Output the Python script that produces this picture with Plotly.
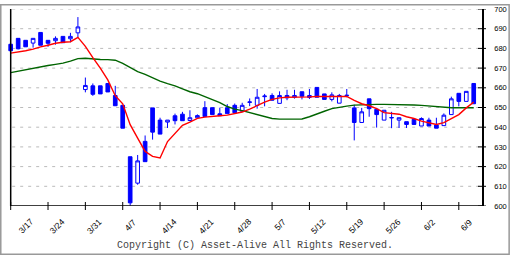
import plotly.graph_objects as go

# ---- data ----
bar_index = list(range(63))
opens = [682.1, 685.1, 684.1, 682.7, 688.1, 684.1, 683.9, 686.1, 684.9, 687.9,
         659.1, 661.0, 661.0, 662.2, 656.1, 651.1, 625.0, 611.6, 632.8, 649.8,
         643.6, 642.6, 645.8, 646.6, 643.4, 644.8, 649.9, 649.9, 646.8, 649.9,
         651.1, 648.1, 652.6, 651.1, 655.5, 656.1, 652.1, 656.1, 655.2, 658.0,
         655.1, 660.2, 656.9, 654.1, 652.2, 656.0, 649.8, 642.4, 654.4, 649.1,
         643.6, 644.7, 643.6, 642.8, 644.0, 640.6, 643.6, 641.1, 640.8, 646.4,
         657.2, 653.1, 662.2]
highs = [682.3, 685.2, 684.1, 685.1, 688.1, 684.1, 686.1, 686.1, 687.9, 695.9,
         665.2, 662.2, 661.0, 662.2, 661.0, 651.1, 625.0, 625.9, 635.8, 649.8,
         644.8, 643.6, 646.9, 647.8, 648.6, 646.5, 653.2, 649.9, 649.9, 651.7,
         652.0, 652.4, 654.6, 659.4, 656.9, 657.2, 658.2, 659.0, 659.0, 658.0,
         659.4, 660.2, 656.9, 657.7, 656.9, 659.4, 651.4, 649.8, 654.4, 649.8,
         648.6, 647.8, 644.8, 642.8, 644.0, 645.0, 644.8, 644.8, 647.0, 655.5,
         657.2, 658.2, 662.2]
lows = [678.8, 679.5, 680.8, 680.4, 681.6, 680.8, 681.9, 682.9, 683.1, 685.5,
        657.7, 655.9, 656.9, 657.9, 650.9, 639.5, 600.2, 610.8, 622.5, 633.7,
        636.5, 639.6, 641.4, 643.3, 643.0, 644.5, 645.4, 646.4, 645.8, 646.9,
        647.3, 647.8, 650.7, 649.4, 650.6, 653.5, 652.1, 653.7, 654.5, 654.1,
        654.3, 655.2, 654.1, 653.1, 652.2, 655.2, 633.3, 642.4, 645.3, 639.8,
        643.6, 639.5, 639.6, 639.6, 641.4, 640.6, 640.6, 639.5, 640.8, 646.4,
        650.6, 653.1, 651.9]
closes = [678.8, 679.8, 680.8, 685.1, 681.6, 682.6, 685.1, 682.9, 686.1, 690.9,
          661.2, 656.7, 656.9, 657.9, 650.9, 639.5, 601.6, 622.9, 622.5, 637.5,
          636.5, 643.6, 643.3, 643.3, 644.8, 645.9, 645.4, 646.4, 645.8, 646.9,
          647.3, 651.1, 652.8, 655.2, 655.8, 653.7, 656.1, 654.9, 656.1, 655.7,
          656.1, 655.2, 654.1, 656.4, 656.1, 656.2, 642.4, 647.8, 649.4, 646.4,
          648.6, 644.9, 644.8, 641.4, 641.4, 644.4, 640.6, 639.5, 646.1, 654.4,
          653.1, 658.2, 651.9]
ma_short = [677.6, 678.1, 678.8, 679.6, 680.8, 681.6, 682.6, 683.1, 683.4, 685.6,
            681.0, 675.3, 670.0, 664.0, 656.0, 651.9, 641.3, 634.5, 627.7, 625.2,
            624.4, 632.7, 637.0, 641.0, 642.6, 644.5, 645.1, 645.3, 645.8, 646.1,
            646.9, 647.7, 649.2, 651.1, 652.7, 654.1, 654.9, 655.2, 655.2, 655.3,
            655.4, 655.6, 655.6, 655.6, 655.6, 655.6, 653.6, 651.9, 650.9, 649.4,
            647.4, 646.9, 646.6, 645.3, 644.4, 643.1, 642.4, 641.4, 642.3, 644.4,
            646.4, 649.8, 652.7]
ma_long = [667.7, 668.5, 669.2, 669.8, 670.6, 671.3, 671.9, 672.5, 673.5, 674.8,
           675.0, 674.6, 674.4, 674.3, 674.0, 672.4, 670.2, 668.2, 666.8, 665.0,
           663.4, 662.1, 661.0, 659.5, 658.0, 657.0, 655.6, 654.0, 652.5, 650.5,
           649.2, 648.4, 647.4, 646.4, 645.3, 644.4, 644.1, 644.1, 644.1, 644.2,
           645.3, 646.9, 648.1, 649.4, 650.2, 650.7, 651.2, 651.4, 651.6, 651.6,
           651.6, 651.6, 651.6, 651.5, 651.3, 651.1, 650.8, 650.5, 650.1, 649.9,
           649.9, 649.9, 649.9]
x_tick_index = [0, 5, 10, 15, 20, 25, 30, 35, 40, 45, 50, 55, 60]
x_tick_labels = ["3/17", "3/24", "3/31", "4/7", "4/14", "4/21", "4/28",
                 "5/7", "5/12", "5/19", "5/26", "6/2", "6/9"]
y_ticks = [600, 610, 620, 630, 640, 650, 660, 670, 680, 690, 700]

# ---- layout geometry (pixels) ----
W, H = 512, 256
L, R, T, B = 8, 484, 5, 206
XMIN = -0.36
XMAX = XMIN + (R - L) / 7.5
BLUE = "#0000ff"

fig = go.Figure()
fig.add_trace(go.Candlestick(
    x=bar_index, open=opens, high=highs, low=lows, close=closes,
    increasing=dict(line=dict(color=BLUE, width=1), fillcolor="#ffffff"),
    decreasing=dict(line=dict(color=BLUE, width=1), fillcolor=BLUE),
    whiskerwidth=0, hoverinfo="skip", showlegend=False))
fig.add_trace(go.Scatter(x=bar_index, y=ma_long, mode="lines",
                         line=dict(color="#006400", width=1.4),
                         hoverinfo="skip", showlegend=False))
fig.add_trace(go.Scatter(x=bar_index, y=ma_short, mode="lines",
                         line=dict(color="#ff0000", width=1.4),
                         hoverinfo="skip", showlegend=False))

shapes = []
# dashed horizontal grid
for v in y_ticks[1:]:
    shapes.append(dict(type="line", xref="x", yref="y", x0=0.2, x1=XMAX, y0=v, y1=v,
                       line=dict(color="#bbbbbb", width=1, dash="3px,5px"), layer="below"))
# left and bottom axis lines
shapes.append(dict(type="line", xref="x", yref="y", x0=0, x1=0, y0=600, y1=700,
                   line=dict(color="black", width=1.5)))
shapes.append(dict(type="line", xref="x", yref="y", x0=0, x1=XMAX, y0=600, y1=600,
                   line=dict(color="black", width=1.5)))
# x ticks crossing the axis
for i in x_tick_index:
    shapes.append(dict(type="line", xref="x", yref="paper", x0=i, x1=i,
                       ysizemode="pixel", yanchor=0, y0=-4, y1=4,
                       line=dict(color="black", width=1)))
# y ticks crossing the right axis
for v in y_ticks:
    shapes.append(dict(type="line", xref="paper", yref="y", y0=v, y1=v,
                       xsizemode="pixel", xanchor=1, x0=-4, x1=4,
                       line=dict(color="black", width=1)))
# outer gray frame
pw, ph = R - L, B - T
def px(xp):
    return (xp - L) / pw
def py(yp):
    return (B - yp) / ph
shapes.append(dict(type="rect", xref="paper", yref="paper",
                   x0=px(0.75), x1=px(W - 0.75), y0=py(H - 0.75), y1=py(0.75),
                   line=dict(color="#999999", width=1.5), fillcolor="rgba(0,0,0,0)"))

annotations = []
for i, lab in zip(x_tick_index, x_tick_labels):
    annotations.append(dict(x=i, y=0, xref="x", yref="paper", text=lab, showarrow=False,
                            textangle=-45, xanchor="left", yanchor="top",
                            xshift=(3 if i == 0 else -3), yshift=-8,
                            font=dict(family="Liberation Sans", size=8.5, color="black")))
annotations.append(dict(x=px(W / 2), y=py(246), xref="paper", yref="paper",
                        text="Copyright (C) Asset-Alive All Rights Reserved.",
                        showarrow=False, xanchor="center", yanchor="middle",
                        font=dict(family="Liberation Mono", size=10, color="#444444")))

fig.update_layout(
    width=W, height=H, margin=dict(l=L, r=W - R, t=T, b=H - B, pad=0),
    paper_bgcolor="white", plot_bgcolor="white",
    shapes=shapes, annotations=annotations, showlegend=False,
    xaxis=dict(range=[XMIN, XMAX], showgrid=False, zeroline=False, showline=False,
               showticklabels=False, ticks="", rangeslider=dict(visible=False)),
    yaxis=dict(range=[600, 700], side="right", showgrid=False, zeroline=False,
               showline=True, linecolor="black", linewidth=1.5, tickvals=y_ticks,
               ticks="", ticklabelstandoff=9,
               tickfont=dict(family="Liberation Sans", size=7.5, color="black")),
)
fig.write_html("out.html")
